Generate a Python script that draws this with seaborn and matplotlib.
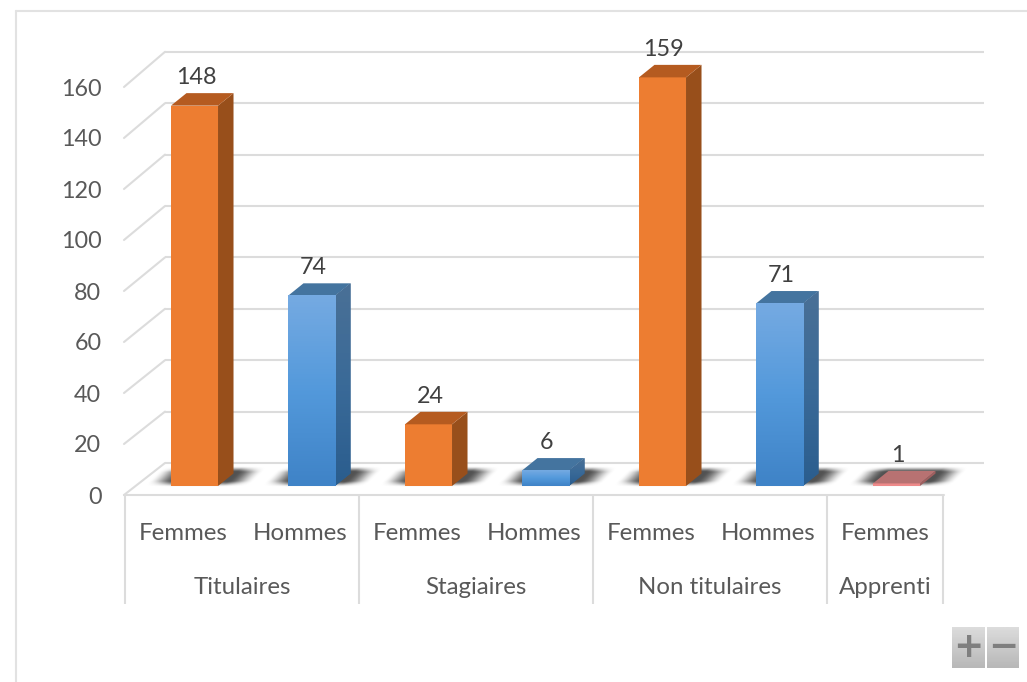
import numpy as np
import pandas as pd
import matplotlib
matplotlib.use("Agg")
import matplotlib.pyplot as plt
from matplotlib.colors import LinearSegmentedColormap
from matplotlib.patches import Polygon
import seaborn as sns

groups = ["Titulaires", "Titulaires", "Stagiaires", "Stagiaires", "Non titulaires", "Non titulaires", "Apprenti"]
sexes = ["Femmes", "Hommes", "Femmes", "Hommes", "Femmes", "Hommes", "Femmes"]
values = [148, 74, 24, 6, 159, 71, 1]
y_ticks = [0, 20, 40, 60, 80, 100, 120, 140, 160]

W, H = 1027, 682
GRID = "#dcdcdc"
TXT = "#595959"
ORANGE = ("#ed7d31", "#b55b20", "#984f1b")
BLUE = ("#4f97da", "#44749f", "#2f5f8e")
PINK = ("#ee8a8a", "#b87272", "#a05f5f")
colors = {"Femmes": ORANGE, "Hommes": BLUE, "Apprenti": PINK}


def bar_colors(group, sex):
    return PINK if group == "Apprenti" else colors[sex]


def px_box(x0, x1, y_bottom, y_top):
    # axes rectangle from pixel positions
    return [x0 / W, 1 - y_bottom / H, (x1 - x0) / W, (y_bottom - y_top) / H]


sns.set_theme(style="white")
plt.rcParams["font.family"] = ["Lato", "DejaVu Sans"]

fig = plt.figure(figsize=(W / 100, H / 100), dpi=100)

# background layer in pixel coordinates: frame, walls, floor
bg = fig.add_axes([0, 0, 1, 1], zorder=0)
bg.set_xlim(0, W)
bg.set_ylim(H, 0)
bg.axis("off")
lw = 1.5
bg.plot([16, 16], [H, 11], color="#e2e2e2", lw=lw)
bg.plot([16, 1027], [11, 11], color="#e2e2e2", lw=lw)
for v in y_ticks:
    yb = 463 - v * 2.57
    yf = 495 - v * 2.55
    bg.plot([165, 984], [yb, yb], color=GRID, lw=lw, solid_capstyle="butt")
    bg.plot([124, 165], [yf, yb], color=GRID, lw=lw)
bg.plot([124, 944], [495, 495], color=GRID, lw=lw)
for x in [125, 359, 593, 827, 943]:
    bg.plot([x, x], [495, 604], color=GRID, lw=lw, solid_capstyle="butt")

# bars, in their own plane set back from the floor edge
ax = fig.add_axes(px_box(194.5 - 58.5, 194.5 + 6.5 * 117, 486, 486 - 160 * 2.57), zorder=2)
ax.patch.set_alpha(0)
df = pd.DataFrame({"key": [g + " " + s for g, s in zip(groups, sexes)], "value": values})
front = [bar_colors(g, s)[0] for g, s in zip(groups, sexes)]
sns.barplot(data=df, x="key", y="value", hue="key", palette=front, width=0.402, saturation=1,
            legend=False, linewidth=0, edgecolor="none", ax=ax)
ax.set_xlim(-0.5, 6.5)
ax.set_ylim(0, 160)
ax.axis("off")

x_unit = ax.get_window_extent().width / 7
y_unit = ax.get_window_extent().height / 160
dx = 15.5 / x_unit
dy = 12.5 / y_unit

blue_front = LinearSegmentedColormap.from_list("bf", ["#3f83c7", "#5399db", "#75aae2"])
blue_side = LinearSegmentedColormap.from_list("bs", ["#2a5d8e", "#3a6a98", "#4a7096"])
ramp = np.linspace(0, 1, 64).reshape(-1, 1)
shadow_x = []

for i, p in enumerate(list(ax.patches)):
    x0, w, h = p.get_x(), p.get_width(), p.get_height()
    c = bar_colors(groups[i], sexes[i])
    side = Polygon([(x0 + w, 0), (x0 + w + dx, dy), (x0 + w + dx, h + dy), (x0 + w, h)],
                   facecolor=c[2], edgecolor="none", zorder=3, clip_on=False)
    top = Polygon([(x0, h), (x0 + dx, h + dy), (x0 + w + dx, h + dy), (x0 + w, h)],
                  facecolor=c[1], edgecolor="none", zorder=3, clip_on=False)
    ax.add_patch(side)
    ax.add_patch(top)
    if c is BLUE:
        # blue columns shade from dark at the floor to light at the top
        im = ax.imshow(ramp, extent=(x0, x0 + w, 0, h), origin="lower", aspect="auto",
                       cmap=blue_front, zorder=4)
        im2 = ax.imshow(ramp, extent=(x0 + w, x0 + w + dx, 0, h + dy), origin="lower", aspect="auto",
                        cmap=blue_side, zorder=3.5)
        im2.set_clip_path(side)
    ax.annotate(str(values[i]), (x0 + w / 2, h + dy), xytext=(1, 3.5), textcoords="offset points",
                ha="center", va="bottom", fontsize=16.8, color="#404040", zorder=6,
                annotation_clip=False)
    shadow_x.append(ax.transData.transform((x0 + w / 2, 0))[0])
ax.set_xlim(-0.5, 6.5)
ax.set_ylim(0, 160)

# soft shadow on the floor
X, Y = np.meshgrid(np.arange(W) + 0.5, np.arange(H) + 0.5)
alpha = np.zeros((H, W))
for cx in shadow_x:
    u = np.abs(X - (cx + 11) - (477 - Y))
    vv = np.abs(Y - 476.5)
    a = np.clip((53 - u) / 26, 0, 1) * np.clip((10.5 - vv) / 6, 0, 1)
    a = a * a * (3 - 2 * a)
    alpha = np.maximum(alpha, a)
rgba = np.zeros((H, W, 4))
rgba[..., :3] = 0.2
rgba[..., 3] = alpha * 0.85
bg.imshow(rgba, extent=(0, W, H, 0), aspect="auto", zorder=1, interpolation="bilinear")
bg.set_xlim(0, W)
bg.set_ylim(H, 0)

# front edge of the chart carries the value axis and the category labels
front_ax = fig.add_axes(px_box(125, 944, 495, 495 - 160 * 2.55), zorder=3)
front_ax.patch.set_alpha(0)
front_ax.set_xlim(-0.5, 6.5)
front_ax.set_ylim(0, 160)
sns.despine(ax=front_ax, left=True, bottom=True)
front_ax.set_yticks(y_ticks)
front_ax.set_yticklabels([str(v) for v in y_ticks], fontsize=16.8, color=TXT)
front_ax.set_xticks(range(len(sexes)))
front_ax.set_xticklabels(sexes, fontsize=17.3, color=TXT)
front_ax.tick_params(axis="y", length=0, pad=17)
front_ax.tick_params(axis="x", length=0, pad=20)

for name in dict.fromkeys(groups):
    idx = [i for i, g in enumerate(groups) if g == name]
    xpx = front_ax.transData.transform((np.mean(idx), 0))[0]
    bg.text(xpx, 587, name, ha="center", va="center", fontsize=17.3, color=TXT)

# zoom buttons
btn = np.linspace(0.86, 0.72, 32).reshape(-1, 1)
for x0, x1, s in [(952, 985, "+"), (987, 1019, "\u2212")]:
    bg.imshow(btn, extent=(x0, x1, 668, 627), cmap="gray", vmin=0, vmax=1, aspect="auto", zorder=2)
    bg.text((x0 + x1) / 2, 647, s, ha="center", va="center", fontsize=26, fontweight="bold",
            color="#7f7f7f", family="DejaVu Sans", zorder=3)
bg.set_xlim(0, W)
bg.set_ylim(H, 0)

fig.savefig("out.png", dpi=100)
